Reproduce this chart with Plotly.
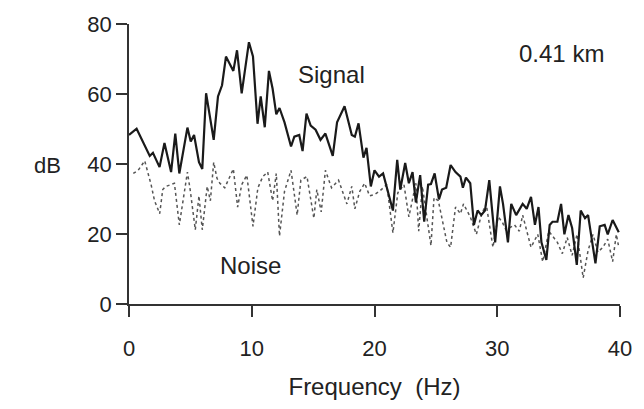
import plotly.graph_objects as go

# Signal spectrum (frequency in Hz, level in dB)
signal_freq = [0.0, 0.62, 1.69, 1.95, 2.49, 2.89, 3.43, 3.77, 4.1, 4.76, 5.03, 5.3, 5.7, 5.97,
               6.28, 6.9, 7.25, 7.58, 7.9, 8.5, 8.8, 9.18, 9.77, 10.1, 10.47, 10.73, 11.06, 11.4,
               11.7, 12.0, 12.26, 12.67, 13.2, 13.47, 13.87, 14.14, 14.46, 14.8, 15.2, 15.6, 16.0,
               16.6, 16.95, 17.56, 18.15, 18.4, 18.7, 19.1, 19.35, 19.7, 20.0, 20.37, 20.7, 21.5,
               21.85, 22.1, 22.5, 22.8, 23.1, 23.37, 23.72, 24.05, 24.37, 24.6, 24.9, 25.25, 25.5,
               25.84, 26.2, 26.6, 27.0, 27.2, 27.45, 27.8, 28.1, 28.4, 28.7, 29.0, 29.35, 29.83,
               30.22, 30.47, 30.87, 31.14, 31.54, 32.07, 32.4, 32.75, 33.07, 33.36, 33.6, 34.0,
               34.27, 34.5, 34.9, 35.2, 35.47, 35.8, 36.1, 36.48, 36.8, 37.15, 37.4, 38.0, 38.35,
               38.75, 39.0, 39.4, 39.9]
signal_db = [48.3, 50.1, 42.3, 43.2, 39.1, 46.0, 37.7, 48.7, 37.3, 50.4, 46.4, 48.3, 40.5, 38.6,
             60.2, 46.9, 59.3, 62.5, 70.7, 66.6, 72.5, 60.2, 74.8, 70.7, 51.5, 59.3, 50.5, 66.6,
             61.5, 54.2, 56.0, 51.9, 45.0, 47.8, 48.3, 43.7, 54.4, 51.0, 49.8, 46.9, 48.7,
             42.3, 51.9, 56.5, 48.3, 47.8, 51.6, 41.8, 44.6, 33.6, 38.2, 36.4, 37.3, 26.7,
             41.2, 32.7, 40.3, 34.5, 37.7, 29.0, 36.8, 23.5, 34.1, 34.3, 37.3, 29.9, 32.7,
             33.2, 39.7, 37.7, 36.4, 33.2, 36.1, 34.5, 22.6, 26.7, 25.4, 26.7, 35.4, 17.6,
             33.6, 28.6, 17.6, 28.6, 25.4, 28.6, 27.2, 30.6, 22.6, 27.7, 17.6, 12.6,
             22.6, 23.5, 23.5, 28.6, 19.9, 25.4, 21.7, 11.2, 26.7, 24.5, 25.4, 11.6, 22.2,
             22.6, 19.9, 24.0, 20.5]

# Noise spectrum
noise_freq = [0.35, 0.75, 1.28, 1.55, 1.8, 2.08, 2.5, 2.75, 3.0, 3.4, 3.7, 4.1, 4.76, 5.0, 5.4,
              5.7, 5.97, 6.37, 6.63, 6.9, 7.17, 7.4, 7.8, 8.5, 8.85, 9.18, 9.6, 10.1, 10.5,
              10.9, 11.3, 11.7, 12.0, 12.26, 12.67, 13.2, 13.7, 14.0, 14.5, 15.06, 15.3, 15.66,
              16.0, 16.5, 17.07, 17.75, 18.15, 18.4, 18.8, 19.2, 19.6, 20.0, 20.4, 21.0, 21.5,
              21.9, 22.4, 22.8, 23.37, 23.6, 23.9, 24.6, 24.85, 25.2, 25.9, 26.2, 26.6, 27.0,
              27.25, 27.8, 28.3, 28.7, 29.1, 29.65, 30.07, 30.4, 30.7, 31.4, 31.8, 32.07, 32.75,
              33.3, 33.7, 34.2, 34.9, 35.3, 35.7, 36.1, 36.5, 37.0, 37.4, 37.8, 38.2, 38.6,
              39.0, 39.4, 39.7, 39.9]
noise_db = [37.3, 38.2, 40.9, 37.7, 34.1, 29.5, 25.8, 32.7, 33.6, 34.1, 34.5, 22.6, 37.7, 32.2, 21.2,
            30.9, 21.2, 33.6, 29.5, 40.5, 35.9, 34.5, 33.2, 38.6, 27.7, 34.1, 36.8, 22.2, 33.2,
            36.4, 37.7, 29.5, 37.3, 19.4, 32.2, 38.2, 25.4, 35.4, 36.4, 24.5, 32.7, 26.3,
            38.2, 33.2, 35.4, 28.6, 33.6, 27.2, 32.2, 34.5, 30.9, 31.3, 32.2, 34.1, 20.3,
            31.8, 34.1, 24.9, 34.5, 20.8, 33.6, 16.7, 30.4, 29.5, 17.6, 16.2, 27.7, 25.8,
            28.6, 24.9, 19.9, 25.4, 28.6, 16.2, 24.9, 23.5, 21.2, 22.6, 20.8, 25.4, 16.2,
            19.9, 12.1, 20.8, 17.6, 14.4, 19.0, 13.9, 19.9, 7.5, 15.3, 19.9, 14.8, 16.2,
            18.5, 12.1, 19.9, 16.2]

x_ticks = [0, 10, 20, 30, 40]
y_ticks = [0, 20, 40, 60, 80]

FONT = "Liberation Sans, Arial, sans-serif"
INK = "#222222"
TICK_SIZE = 22
TEXT_SIZE = 24

fig = go.Figure()
fig.add_trace(go.Scatter(x=noise_freq, y=noise_db, mode="lines",
                         line=dict(color="#555555", width=1.5, dash="dot"),
                         showlegend=False, hoverinfo="skip"))
fig.add_trace(go.Scatter(x=signal_freq, y=signal_db, mode="lines",
                         line=dict(color="#1a1a1a", width=2.2),
                         showlegend=False, hoverinfo="skip"))

axis_common = dict(showgrid=False, zeroline=False, showline=True, linecolor="#333333",
                   linewidth=1.5, ticks="outside", tickcolor="#333333", tickwidth=1.5,
                   ticklen=11, tickfont=dict(family=FONT, size=TICK_SIZE, color=INK))

fig.update_xaxes(range=[0, 40], tickvals=x_ticks, ticklabelstandoff=13,
                 title=dict(text="Frequency  (Hz)",
                            font=dict(family=FONT, size=TEXT_SIZE, color=INK),
                            standoff=18),
                 **axis_common)
fig.update_yaxes(range=[0, 80], tickvals=y_ticks, ticklabelstandoff=0, **axis_common)

annos = [
    dict(text="Signal", x=16.5, y=65.5),
    dict(text="Noise", x=9.9, y=11),
    dict(text="0.41 km", x=35.2, y=71.5),
]
for a in annos:
    fig.add_annotation(x=a["x"], y=a["y"], text=a["text"], showarrow=False,
                       font=dict(family=FONT, size=TEXT_SIZE, color=INK))

# horizontal "dB" axis label to the left of the tick labels
fig.add_annotation(x=-0.165, y=0.495, xref="paper", yref="paper", text="dB",
                   showarrow=False, xanchor="center", yanchor="middle",
                   font=dict(family=FONT, size=TICK_SIZE, color=INK))

fig.update_layout(width=644, height=409, margin=dict(l=129, r=17, t=13, b=105),
                  plot_bgcolor="white", paper_bgcolor="white")

fig.write_html("out.html")
